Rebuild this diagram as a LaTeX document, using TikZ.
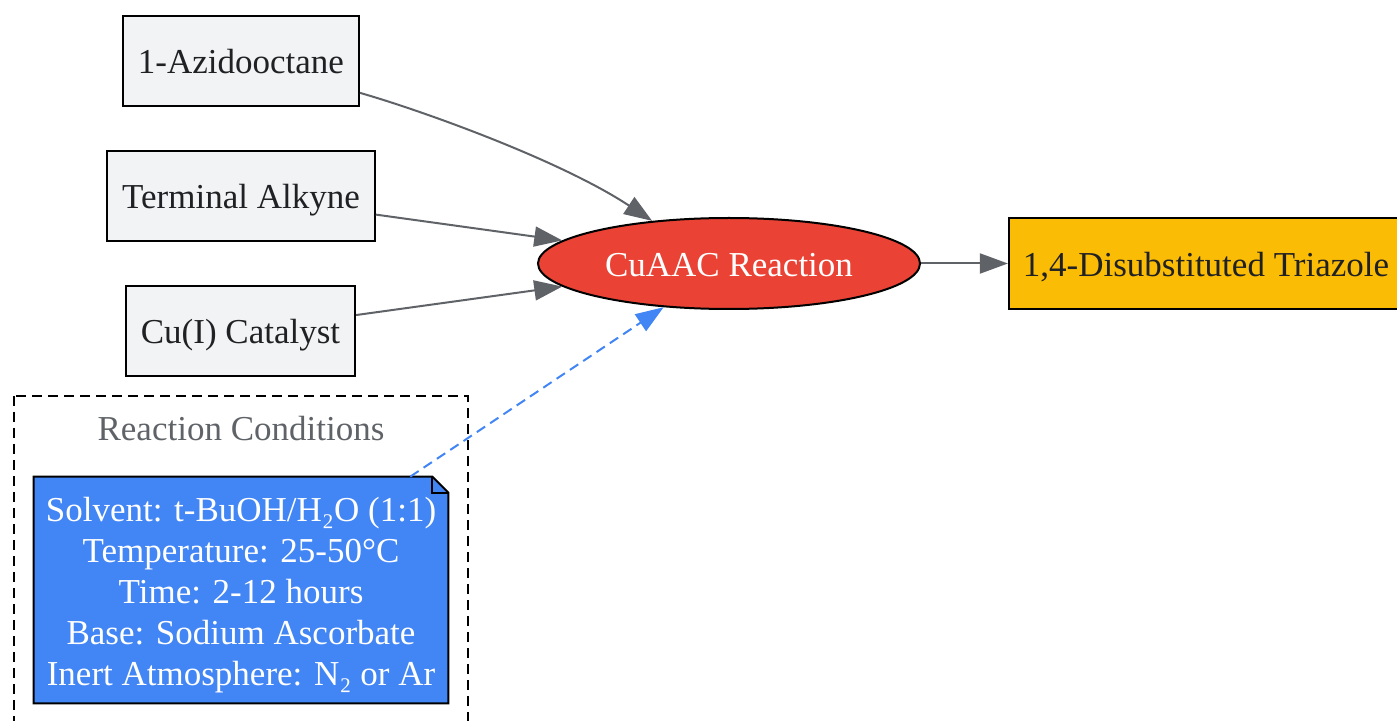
\documentclass[tikz,border=0pt]{standalone}
\usepackage{fontspec}
\setmainfont{Liberation Serif}
\usepackage{tikz}
\usetikzlibrary{arrows.meta,shapes.geometric,backgrounds}
\definecolor{boxgray}{HTML}{F1F3F4}
\definecolor{edgegray}{HTML}{5F6368}
\definecolor{cured}{HTML}{EA4335}
\definecolor{goldy}{HTML}{FBBC05}
\definecolor{noteblue}{HTML}{4285F4}
\definecolor{inkdark}{HTML}{202124}
\tikzstyle{oneline}=[text height=15pt, text depth=2pt]
\tikzstyle{reagent}=[rectangle, oneline, draw=black, line width=1pt, fill=boxgray, text=inkdark, minimum height=45pt, inner xsep=7.5pt]
\tikzstyle{reaction}=[ellipse, oneline, draw=black, line width=1pt, fill=cured, text=white, minimum width=191pt, minimum height=45.5pt, inner sep=0pt]
\tikzstyle{product}=[rectangle, oneline, draw=black, line width=1pt, fill=goldy, text=inkdark, minimum height=45.5pt, inner xsep=7pt]
\tikzstyle{cond}=[rectangle, text=white, align=center, minimum width=207pt, minimum height=113pt, inner sep=0pt]
\tikzstyle{flow}=[->, draw=edgegray, line width=1pt]
\tikzstyle{hint}=[->, draw=noteblue, line width=1pt, dash pattern=on 5pt off 3pt]

\begin{document}
\begin{tikzpicture}[x=0.5pt,y=-0.5pt,font=\fontsize{17.5}{20.5}\selectfont,
    >={Triangle[length=14pt,width=10pt]}]
    \useasboundingbox (0,0) rectangle (1397,721);
    % inputs
    \node (azide) at (241,61) [reagent] {1-Azidooctane};
    \node (alkyne) at (241,196) [reagent] {Terminal Alkyne};
    \node (cat) at (240.5,331) [reagent] {Cu(I) Catalyst};
    \node (cuaac) at (729,263.5) [reaction] {CuAAC Reaction};
    \node (triazole) at (1206,263.5) [product] {1,4-Disubstituted Triazole};
    % conditions cluster
    \node (condlbl) at (241,427) [oneline, text=edgegray] {Reaction Conditions};
    \node (cond) at (241,590) [cond] {\rule{0pt}{16.8pt}Solvent: t-BuOH/H₂O (1:1)\\Temperature: 25-50°C\\Time: 2-12 hours\\Base: Sodium Ascorbate\\Inert Atmosphere: N₂ or Ar};
    \begin{scope}[on background layer]
      \draw[line width=1pt, dash pattern=on 5pt off 3pt] (14,396) rectangle (468,740);
      \draw[line width=1pt, fill=noteblue] (cond.south west) -- (cond.north west)
        -- ([xshift=-8pt]cond.north east) -- ([yshift=-8pt]cond.north east)
        -- (cond.south east) -- cycle;
      \draw[line width=1pt] ([xshift=-8pt]cond.north east) -- ([xshift=-8pt,yshift=-8pt]cond.north east)
        -- ([yshift=-8pt]cond.north east);
    \end{scope}
    \draw[flow] (azide.-15) .. controls (420,110) and (560,160) .. (cuaac.151);
    \draw[flow] (alkyne) -- (cuaac);
    \draw[flow] (cat) -- (cuaac);
    \draw[flow] (cuaac) -- (triazole);
    \draw[hint] (cond) -- (cuaac);
\end{tikzpicture}
\end{document}
